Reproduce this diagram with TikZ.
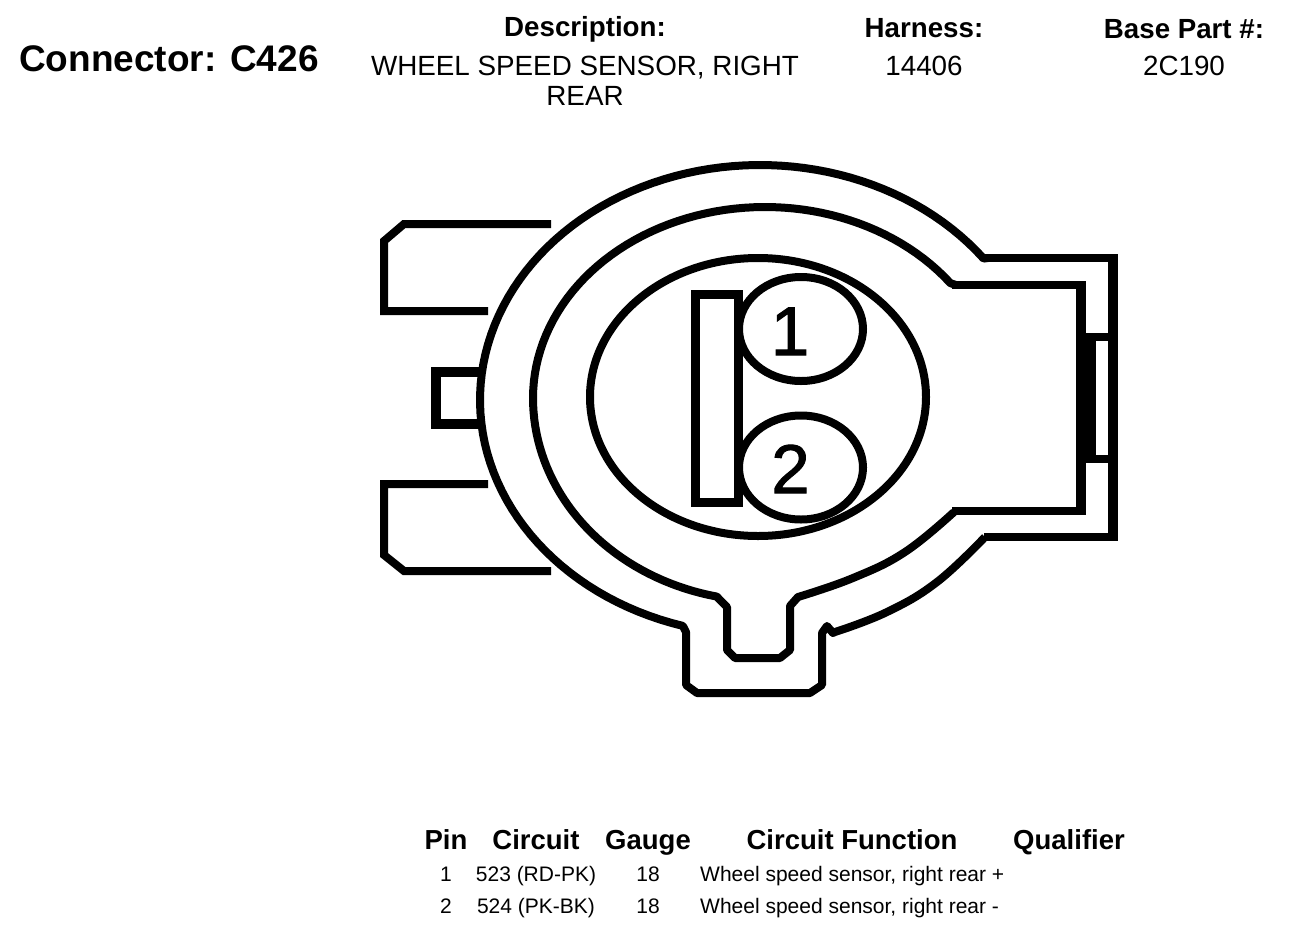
\documentclass[tikz,border=0pt]{standalone}
\usepackage{fontspec}
\setmainfont{Liberation Sans}
\newfontfamily\digitfont[FakeBold=1.5]{Liberation Sans}
\tikzset{
  outline/.style={draw=black,line width=8pt,line join=miter,line cap=butt},
  thick outline/.style={draw=black,line width=10pt},
  smooth outline/.style={outline,line join=round},
  head/.style={font=\fontsize{27.7}{30}\bfseries\selectfont,inner sep=0pt,anchor=base},
  val/.style={font=\fontsize{27.8}{30}\selectfont,inner sep=0pt,anchor=base},
  thead/.style={font=\fontsize{27.5}{30}\bfseries\selectfont,inner sep=0pt,anchor=base},
  cell/.style={font=\fontsize{21}{24}\selectfont,inner sep=0pt,anchor=base},
  digit/.style={font=\digitfont\fontsize{69}{70}\selectfont,inner sep=0pt,anchor=base},
}
\begin{document}
\begin{tikzpicture}[x=1pt,y=-1pt]
\useasboundingbox (0,0) rectangle (1312,940);
% title block
\node[inner sep=0pt,anchor=base west,font=\fontsize{37}{40}\bfseries\selectfont] (conn) at (19,71) {Connector: C426};
\node[head] (desc) at (585,36) {Description:};
\node[val] (d1) at (585,75) {WHEEL SPEED SENSOR, RIGHT};
\node[val] (d2) at (585,105) {REAR};
\node[head] (harn) at (924,37) {Harness:};
\node[val] (hv) at (924,75) {14406};
\node[head] (base) at (1184,38) {Base Part \#:};
\node[val] (bv) at (1184,75.5) {2C190};
% outer shell
\draw[smooth outline] (988,258)
  -- plot[domain=37:254,samples=90,variable=\t] ({760+280*cos(\t)},{400-235*sin(\t)})
  -- (686,632) -- (686,685) -- (697,693) -- (810,693) -- (822,685) -- (822,633) -- (827,626) -- (833,633)
  -- plot[smooth,tension=0.7] coordinates {(835,632) (887,612) (937,582) (985,537)};
\draw[outline] (984,258) -- (1117,258);
\draw[outline] (984,537) -- (1117,537);
\draw[thick outline] (1112.5,254) -- (1112.5,541);
% middle ring
\draw[smooth outline] (956,285)
  -- plot[domain=37:180,samples=60,variable=\t] ({765+232*cos(\t)},{398-191*sin(\t)})
  -- plot[domain=180:258,samples=40,variable=\t] ({765+232*cos(\t)},{398-203*sin(\t)})
  -- (720,600) -- (727,607) -- (727,650) -- (735,658) -- (780,658) -- (790,650) -- (790,606) -- (798,597)
  -- plot[smooth,tension=0.7] coordinates {(798,597) (853,578) (905,552) (954,512)};
\draw[outline] (952,285) -- (1085,285);
\draw[outline] (952,511) -- (1085,511);
\draw[thick outline] (1081,281) -- (1081,515);
% right latch
\fill[black] (1077,333) rectangle (1096,463);
\draw[outline] (1081,337) -- (1108,337);
\draw[outline] (1081,459) -- (1108,459);
% inner ellipse, key and pins
\draw[outline] (758,397) ellipse [x radius=168,y radius=139];
\draw[outline] (801,329) ellipse [x radius=62,y radius=52];
\draw[outline] (801,467.5) ellipse [x radius=62,y radius=52];
\draw[outline,line width=9pt] (695.5,294.5) rectangle (738.5,502.5);
\node[digit] (p1) at (790,355) {1};
\node[digit] (p2) at (790.5,493) {2};
% tabs
\draw[outline] (551,224) -- (404,224) -- (384,241) -- (384,311) -- (488,311);
\draw[outline] (551,571) -- (404,571) -- (384,555) -- (384,484) -- (488,484);
\draw[thick outline] (480,372) -- (436,372) -- (436,424) -- (480,424);
% table
\node[thead] (h1) at (446,849) {Pin};
\node[thead] (h2) at (536,849) {Circuit};
\node[thead] (h3) at (648,849) {Gauge};
\node[thead] (h4) at (852,849) {Circuit Function};
\node[thead] (h5) at (1069,849) {Qualifier};
\node[cell] (a1) at (446,881) {1};
\node[cell] (a2) at (536,881) {523 (RD-PK)};
\node[cell] (a3) at (648,881) {18};
\node[cell,anchor=base west] (a4) at (700,881) {Wheel speed sensor, right rear +};
\node[cell] (b1) at (446,913) {2};
\node[cell] (b2) at (536,913) {524 (PK-BK)};
\node[cell] (b3) at (648,913) {18};
\node[cell,anchor=base west] (b4) at (700,913) {Wheel speed sensor, right rear -};
\end{tikzpicture}
\end{document}
